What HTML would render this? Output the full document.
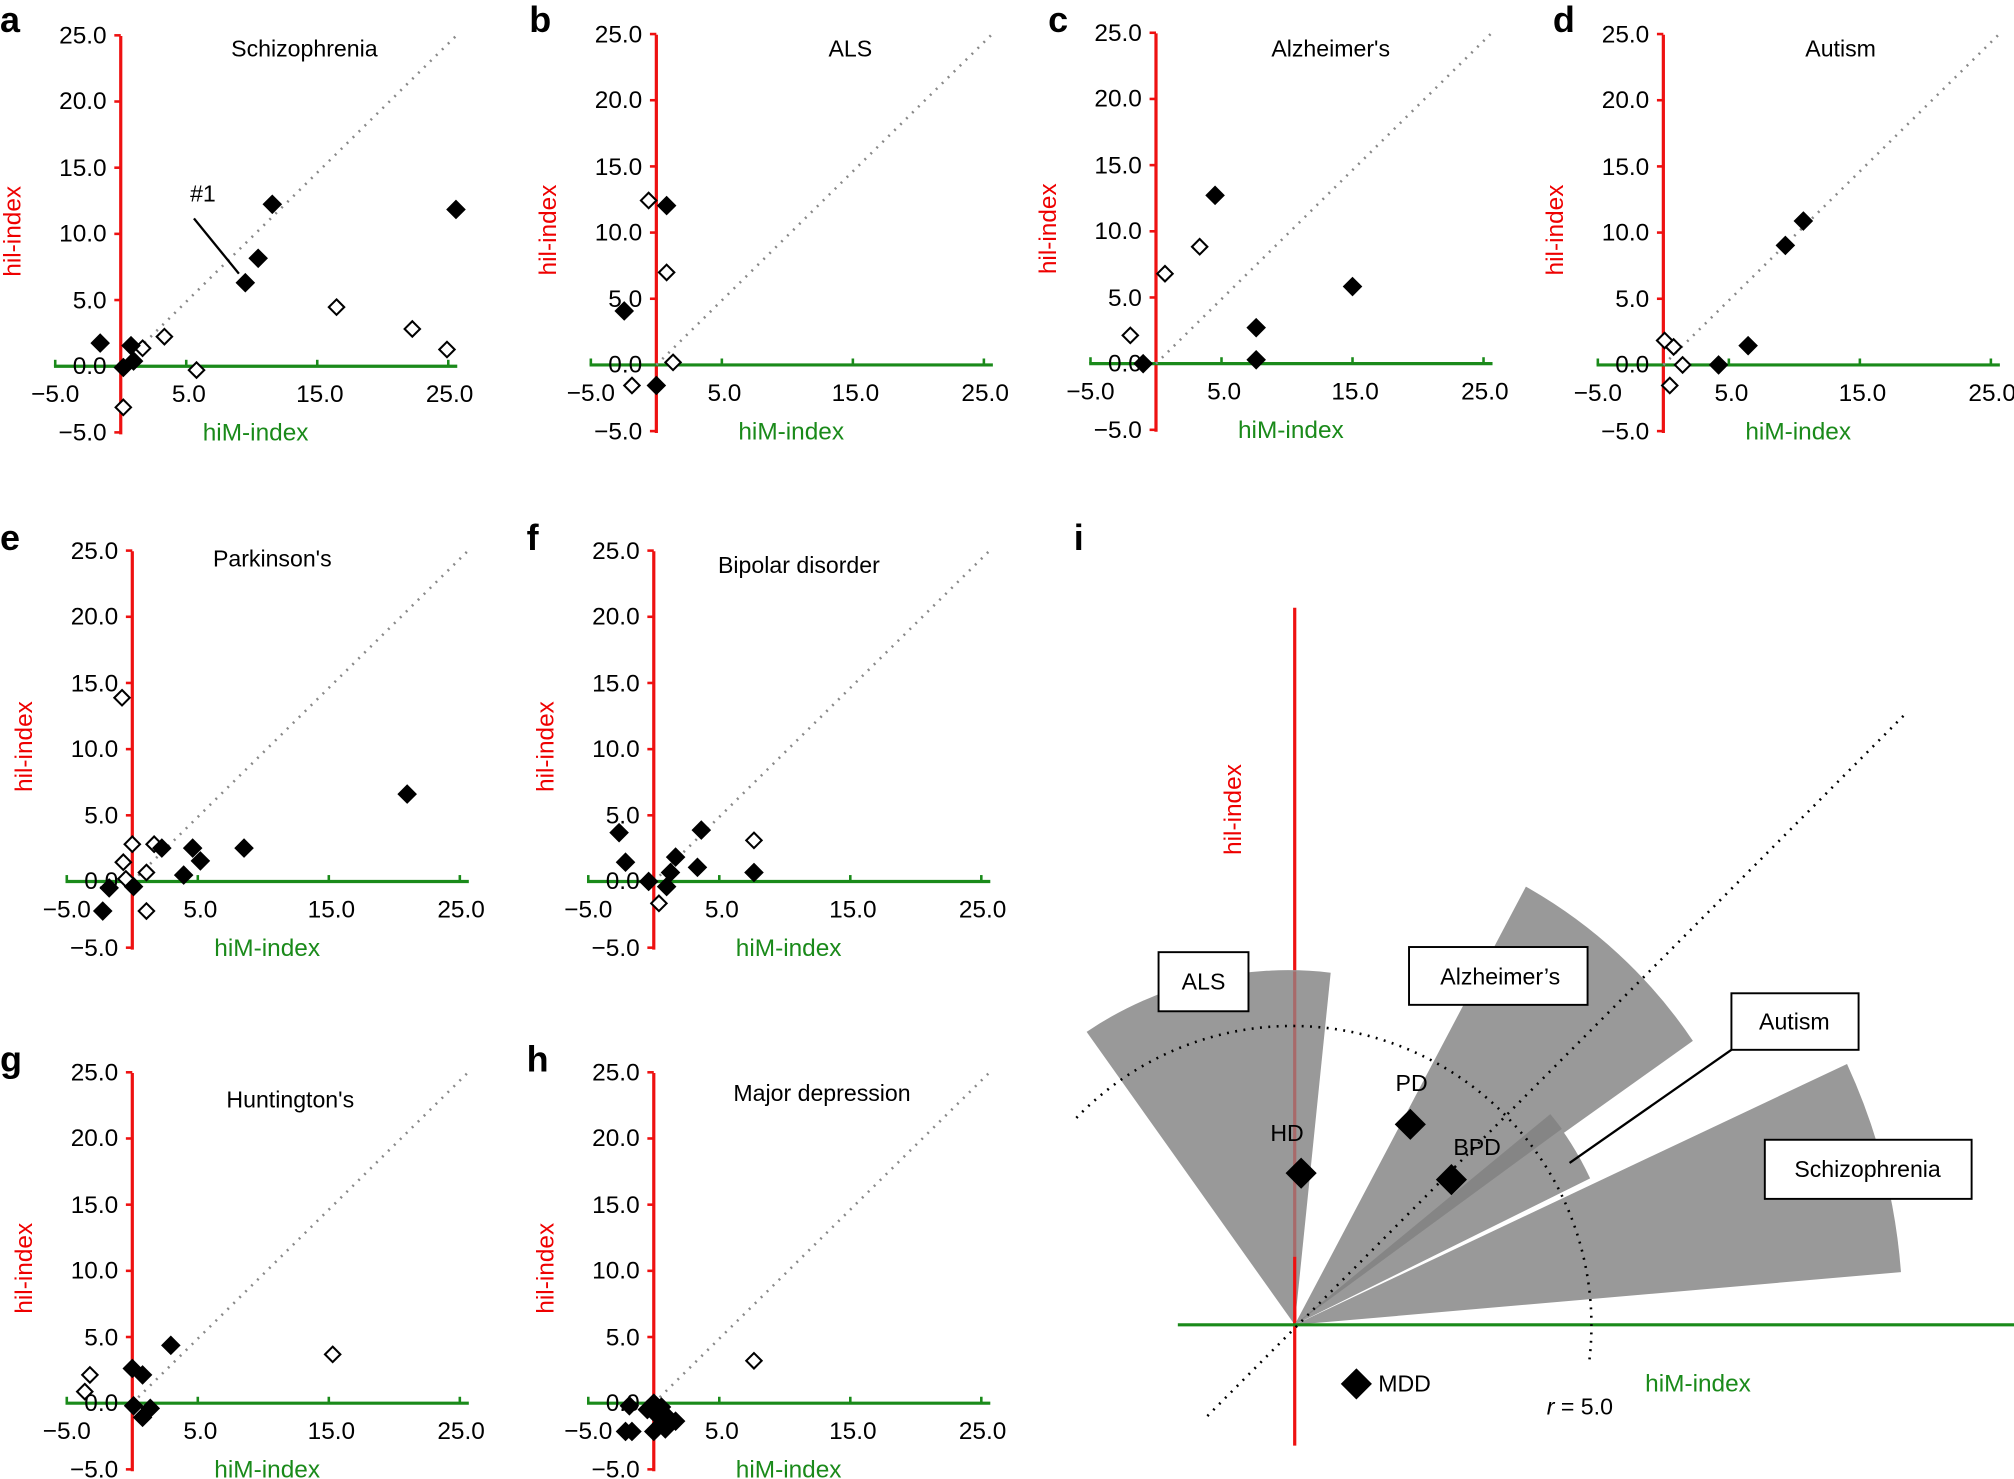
<!DOCTYPE html>
<html><head><meta charset="utf-8"><style>
html,body{margin:0;padding:0;background:#fff;}
svg{display:block;font-family:"Liberation Sans",Arial,sans-serif;}
.t{font-size:18px;fill:#000;}
.yl{font-size:19px;fill:#000;text-anchor:end;}
.xl{font-size:19px;fill:#000;text-anchor:middle;}
.g{font-size:19px;fill:#1a8a1a;text-anchor:middle;}
.r{font-size:19px;fill:#e00;text-anchor:middle;}
.L{font-size:28px;font-weight:bold;fill:#000;}
</style></head><body>
<svg width="2014" height="1479" viewBox="0 0 1568 1151" preserveAspectRatio="none" xmlns="http://www.w3.org/2000/svg">
<defs>
<g id="ax">
<line x1="0" y1="-257" x2="0" y2="53" stroke="#ee1111" stroke-width="2.5"/>
<line x1="-52" y1="0" x2="262" y2="0" stroke="#1a8a1a" stroke-width="2.5"/>
<line x1="0" y1="0" x2="261" y2="-257" stroke="#888" stroke-width="2" stroke-dasharray="1.5,5"/>
<g stroke="#ee1111" stroke-width="2"><line x1="-5" y1="-257.5" x2="0" y2="-257.5"/><line x1="-5" y1="-206" x2="0" y2="-206"/><line x1="-5" y1="-154.5" x2="0" y2="-154.5"/><line x1="-5" y1="-103" x2="0" y2="-103"/><line x1="-5" y1="-51.5" x2="0" y2="-51.5"/><line x1="-5" y1="51.5" x2="0" y2="51.5"/></g>
<g stroke="#1a8a1a" stroke-width="2"><line x1="-51" y1="0" x2="-51" y2="-5"/><line x1="51" y1="0" x2="51" y2="-5"/><line x1="153" y1="0" x2="153" y2="-5"/><line x1="255" y1="0" x2="255" y2="-5"/></g>
<text class="yl" x="-11" y="-251">25.0</text><text class="yl" x="-11" y="-200">20.0</text><text class="yl" x="-11" y="-148">15.0</text><text class="yl" x="-11" y="-97">10.0</text><text class="yl" x="-11" y="-45">5.0</text><text class="yl" x="-11" y="6">0.0</text><text class="yl" x="-11" y="58">−5.0</text>
<text class="xl" x="-51" y="28">−5.0</text><text class="xl" x="53" y="28">5.0</text><text class="xl" x="155" y="28">15.0</text><text class="xl" x="256" y="28">25.0</text>
<text class="g" x="105" y="58">hiM-index</text>
<text class="r" transform="translate(-78,-105) rotate(-90)">hil-index</text>
</g>
</defs>
<use href="#ax" x="94" y="285"/>
<use href="#ax" x="511" y="284"/>
<use href="#ax" x="900" y="283"/>
<use href="#ax" x="1295" y="284"/>
<use href="#ax" x="103" y="686"/>
<use href="#ax" x="509" y="686"/>
<use href="#ax" x="103" y="1092"/>
<use href="#ax" x="509" y="1092"/>
<text class="L" x="0" y="25">a</text><text class="L" x="412" y="25">b</text><text class="L" x="816" y="25">c</text><text class="L" x="1209" y="25">d</text>
<text class="L" x="0" y="428">e</text><text class="L" x="410" y="428">f</text><text class="L" x="0" y="834">g</text><text class="L" x="410" y="834">h</text><text class="L" x="836" y="428">i</text>
<text class="t" x="237" y="44" text-anchor="middle">Schizophrenia</text>
<text class="t" x="662" y="44" text-anchor="middle">ALS</text>
<text class="t" x="1036" y="44" text-anchor="middle">Alzheimer's</text>
<text class="t" x="1433" y="44" text-anchor="middle">Autism</text>
<text class="t" x="212" y="441" text-anchor="middle">Parkinson's</text>
<text class="t" x="622" y="446" text-anchor="middle">Bipolar disorder</text>
<text class="t" x="226" y="862" text-anchor="middle">Huntington's</text>
<text class="t" x="640" y="857" text-anchor="middle">Major depression</text>
<text class="t" x="158" y="157" text-anchor="middle">#1</text>
<line x1="151" y1="170" x2="186" y2="213" stroke="#000" stroke-width="1.8"/>
<!-- panel i -->
<line x1="1008" y1="473" x2="1008" y2="1125" stroke="#ee1111" stroke-width="2.5"/>
<path d="M1008,1031 L846,803 A280,280 0 0 1 1036,757 Z" fill="#999"/>
<line x1="1008" y1="756" x2="1008" y2="978" stroke="#a86a6a" stroke-width="2.5"/>
<line x1="1008" y1="978" x2="1008" y2="1031" stroke="#ee1111" stroke-width="2.5"/>
<path d="M1008,1031 L1188,690 A384,384 0 0 1 1318,810 Z" fill="#999"/>
<path d="M1008,1031 L1438,828 A474,474 0 0 1 1480,990 Z" fill="#999"/>
<path d="M1008,1031 L1207,867 A257,257 0 0 1 1238,917 Z" fill="#999"/>
<path d="M1008,1031 L1207,867 A257,257 0 0 1 1216,878.5 Z" fill="#858585"/>
<line x1="917" y1="1031" x2="1568" y2="1031" stroke="#1a8a1a" stroke-width="2.5"/>
<line x1="940" y1="1102" x2="1482" y2="557" stroke="#000" stroke-width="2" stroke-dasharray="1.5,5"/>
<path d="M838,870 A233,233 0 0 1 1237,1062" fill="none" stroke="#000" stroke-width="2" stroke-dasharray="1.5,5"/>
<g fill="#fff" stroke="#000" stroke-width="1.5">
<rect x="902" y="741" width="70" height="46"/><rect x="1097" y="737" width="139" height="45"/>
<rect x="1348" y="773" width="99" height="44"/><rect x="1374" y="887" width="161" height="46"/>
</g>
<line x1="1348" y1="817" x2="1222" y2="905" stroke="#000" stroke-width="1.8"/>
<text class="t" x="937" y="770" text-anchor="middle">ALS</text>
<text class="t" x="1168" y="766" text-anchor="middle">Alzheimer’s</text>
<text class="t" x="1397" y="801" text-anchor="middle">Autism</text>
<text class="t" x="1454" y="916" text-anchor="middle">Schizophrenia</text>
<text class="t" x="1002" y="888" text-anchor="middle">HD</text>
<text class="t" x="1099" y="849" text-anchor="middle">PD</text>
<text class="t" x="1150" y="899" text-anchor="middle">BPD</text>
<text class="t" x="1073" y="1083">MDD</text>
<text class="g" x="1322" y="1083">hiM-index</text>
<text class="r" transform="translate(966,630) rotate(-90)">hil-index</text>
<text class="t" x="1230" y="1101" text-anchor="middle"><tspan font-style="italic">r</tspan> = 5.0</text>
<g id="pts"></g>
</svg>
<script>
var F=[[78,267],[102,269],[104,281],[96,286],[191,220],[201,201],[212,159],[355,163],
[486,242],[519,160],[511,300],
[946,152],[1053,223],[978,255],[978,280],[890,283],
[1390,191],[1404,172],[1361,269],[1338,284],
[317,618],[150,660],[156,670],[126,660],[190,660],[143,681],[85,691],[80,709],[104,690],
[482,648],[487,671],[546,646],[526,667],[543,675],[522,679],[587,679],[519,690],[505,686],
[133,1047],[103,1065],[111,1070],[104,1094],[117,1096],[111,1103],
[490,1094],[509,1092],[515,1095],[504,1097],[510,1100],[520,1103],[526,1106],[515,1108],[487,1114],[492,1114],[509,1114],[518,1112]];
var O=[[111,271],[128,262],[96,317],[153,288],[262,239],[321,256],[348,272],
[505,156],[519,212],[524,282],[492,300],
[934,192],[907,213],[880,261],
[1296,265],[1303,270],[1310,284],[1300,300],
[95,543],[103,657],[120,657],[96,671],[114,679],[98,684],[114,709],
[587,654],[513,703],
[259,1054],[70,1070],[66,1083],
[587,1059]];
var B=[[1013,913],[1098,875],[1130,918],[1056,1077]];
var s='';
function d(p,r,f){return '<polygon points="'+p[0]+','+(p[1]-r)+' '+(p[0]+r)+','+p[1]+' '+p[0]+','+(p[1]+r)+' '+(p[0]-r)+','+p[1]+'" fill="'+f+'" stroke="#000" stroke-width="1.6"/>';}
O.forEach(function(p){s+=d(p,6,'#fff');});
F.forEach(function(p){s+=d(p,6.5,'#000');});
B.forEach(function(p){s+=d(p,11,'#000');});
document.getElementById('pts').innerHTML=s;
</script>
</body></html>
